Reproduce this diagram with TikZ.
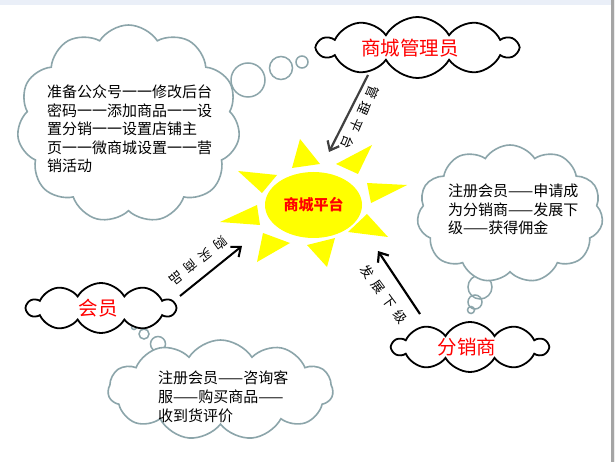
\documentclass[tikz,border=0pt]{standalone}
\usepackage{fontspec}
\newfontfamily\cjk{Noto Sans CJK SC}
\usetikzlibrary{shapes.symbols,shapes.geometric,arrows.meta,calc}
\definecolor{cgray}{RGB}{140,165,170}
\definecolor{sunyel}{RGB}{255,255,0}
\definecolor{topstrip}{RGB}{234,239,248}
\definecolor{darkarrow}{RGB}{64,64,64}
\definecolor{edgegray}{RGB}{165,165,165}
\begin{document}
\begin{tikzpicture}[x=1pt,y=-1pt,
  thought/.style={cloud, cloud puffs=11, cloud puff arc=115, cloud ignores aspect, draw=cgray, line width=1.6pt, fill=white, inner sep=0pt},
  namecloud/.style={cloud, cloud puffs=10, cloud puff arc=120, cloud ignores aspect, draw=black, line width=1.8pt, fill=white, inner sep=0pt},
  bubble/.style={circle, draw=cgray, line width=1.5pt, inner sep=0pt},
  bodytext/.style={font=\cjk\fontsize{15}{18}\selectfont, inner sep=0pt, anchor=base west},
  roletext/.style={font=\cjk\fontsize{19.5}{22}\selectfont, text=red, inner sep=0pt},
  lbl/.style={font=\cjk\fontsize{13}{15}\selectfont, inner sep=0pt},
  ray/.style={fill=sunyel},
  arr/.style={line width=2.2pt, -{Straight Barb[length=8pt,width=13pt]}}
]
\useasboundingbox (0,0) rectangle (615,462);
\fill[white] (0,0) rectangle (615,462);
% window edges
\fill[topstrip] (0,0) rectangle (611,5);
\fill[edgegray] (611,0) rectangle (613.5,462);
\fill[gray!15] (613.5,0) rectangle (615,462);

% thought bubbles
\node[bubble, minimum size=34pt] (lb1) at (248,80) {};
\node[bubble, minimum size=23pt] (lb2) at (281,68) {};
\node[bubble, minimum size=12pt] (lb3) at (302,62) {};
\node[bubble, minimum size=24pt] (rb1) at (480,287) {};
\node[bubble, minimum size=14pt] (rb2) at (475,302) {};
\node[bubble, minimum size=7pt] (rb3) at (471,310) {};
\node[bubble, minimum size=5pt] (bb1) at (134,327) {};
\node[bubble, minimum size=10pt] (bb2) at (144,334) {};
\node[bubble, minimum size=15pt] (bb3) at (158,344) {};

% gray thought clouds
\node[thought, minimum width=223pt, minimum height=198pt] (cl) at (128.5,124) {};
\node[thought, minimum width=186pt, minimum height=138pt] (cr) at (510,214) {};
\node[thought, minimum width=225pt, minimum height=100pt] (cb) at (220.5,390) {};

% role clouds
\node[namecloud, minimum width=199pt, minimum height=61pt] (mgr) at (417.5,47.5) {};
\node[namecloud, minimum width=148pt, minimum height=50pt] (mem) at (101,308) {};
\node[namecloud, minimum width=155pt, minimum height=50pt] (dis) at (470,347) {};
\node[roletext] (mgrt) at (410,48) {商城管理员};
\node[roletext] (memt) at (98,308) {会员};
\node[roletext] (dist) at (467,347) {分销商};

% cloud texts
\foreach \t [count=\i from 0] in {准备公众号一一修改后台,密码一一添加商品一一设,置分销一一设置店铺主,页一一微商城设置一一营,销活动}
  \node[bodytext] (lt\i) at (47,{97.7+18.5*\i}) {\t};
\foreach \t [count=\i from 0] in {注册会员——申请成,为分销商——发展下,级——获得佣金}
  \node[bodytext] (rt\i) at (448,{196.7+18.5*\i}) {\t};
\foreach \t [count=\i from 0] in {注册会员——咨询客,服——购买商品——,收到货评价}
  \node[bodytext] (bt\i) at (158,{383.7+19*\i}) {\t};

% sun rays
\fill[ray] (300,139) -- (292,168) -- (320,164) -- cycle;
\fill[ray] (372,145) -- (336,164) -- (358,174) -- cycle;
\fill[ray] (407,185) -- (367,183) -- (371,203) -- cycle;
\fill[ray] (388,237) -- (348,232) -- (367,214) -- cycle;
\fill[ray] (327,267) -- (307,245) -- (335,238) -- cycle;
\fill[ray] (257,262) -- (263,233) -- (290,243) -- cycle;
\fill[ray] (220,222) -- (257,205) -- (260,225) -- cycle;
\fill[ray] (238,171) -- (277,175) -- (262,193) -- cycle;
\node[ellipse, fill=sunyel, minimum width=97pt, minimum height=66pt, inner sep=0pt,
      font=\cjk\bfseries\fontsize{15}{17}\selectfont, text=red] (sun) at (313.5,205) {商城平台};

% arrows
\coordinate (m1) at (368,75);
\coordinate (m2) at (329,152);
\draw[arr, draw=darkarrow] (m1) -- (m2);
\coordinate (p1) at (180,296);
\coordinate (p2) at (242,246);
\draw[arr, line width=2pt] (p1) -- (p2);
\coordinate (d1) at (420,314);
\coordinate (d2) at (378,251);
\draw[arr] (d1) -- (d2);

% arrow labels
\foreach \c [count=\i from 0] in {管,理,平,台}
  \node[lbl, rotate=-113] (ml\i) at ($(373,92)+\i*(-8.33,16.67)$) {\c};
\foreach \c [count=\i from 0] in {购,买,商,品}
  \node[lbl, rotate=-141.5] (pl\i) at ($(220,243)+\i*(-14.67,11.67)$) {\c};
\foreach \c [count=\i from 0] in {发,展,下,级}
  \node[lbl, rotate=-53.7] (dl\i) at ($(367,272)+\i*(11,15)$) {\c};
\end{tikzpicture}
\end{document}
